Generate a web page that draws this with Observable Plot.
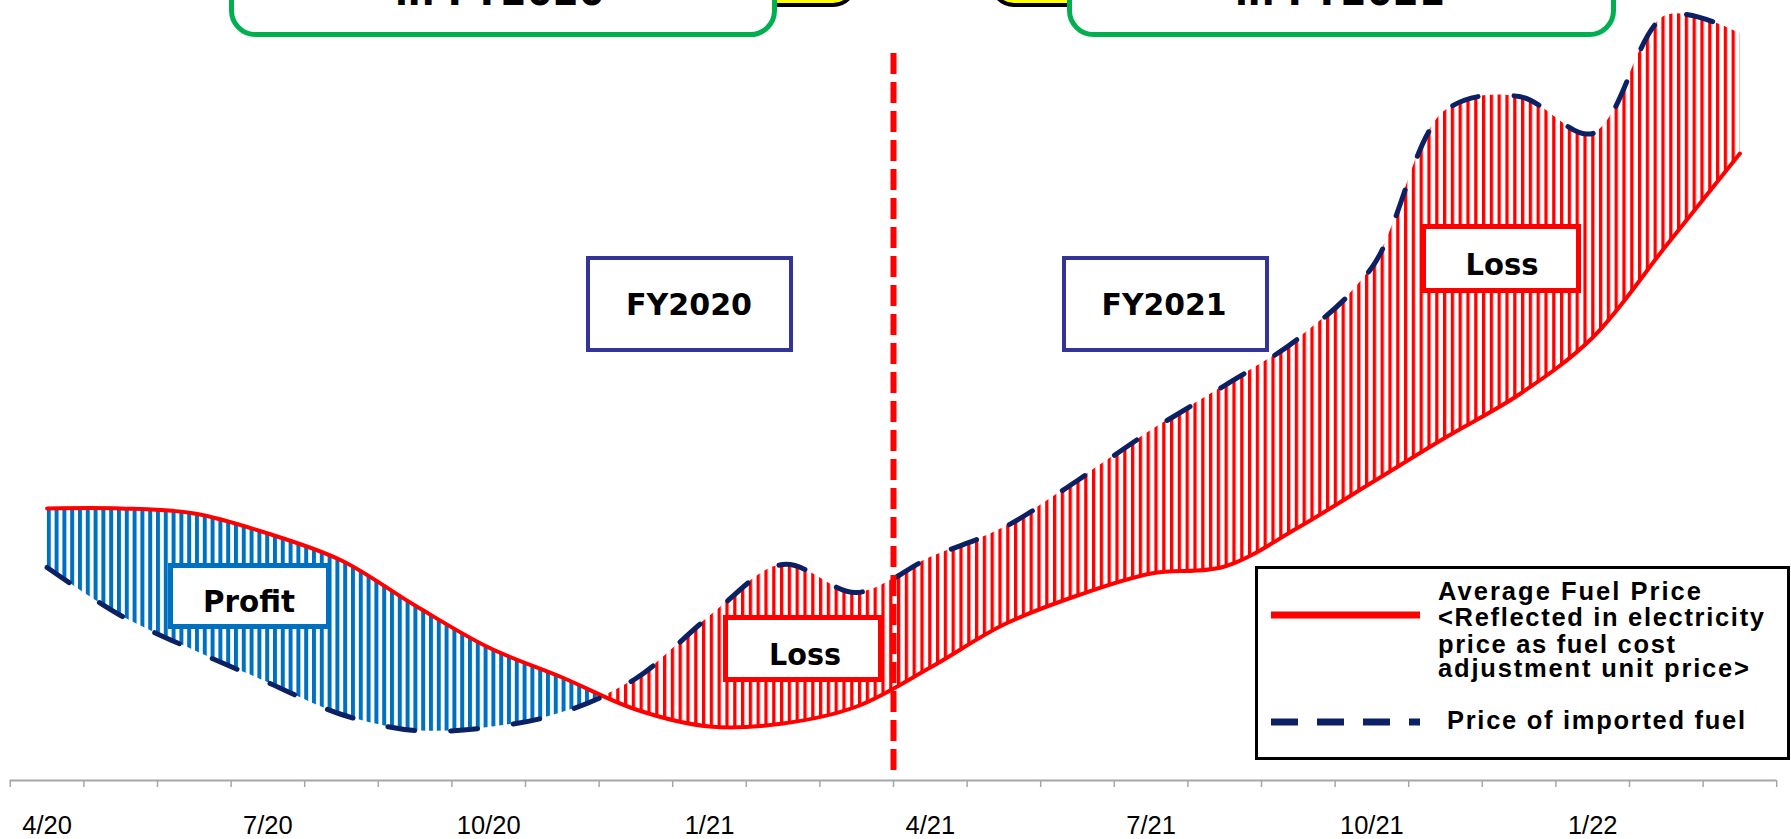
<!DOCTYPE html>
<html>
<head>
<meta charset="utf-8">
<script src="https://cdn.jsdelivr.net/npm/d3@7"></script>
<script src="https://cdn.jsdelivr.net/npm/@observablehq/plot@0.6"></script>
<style>
  html, body { margin: 0; padding: 0; background: #fff; overflow: hidden; }
  #chart svg { display: block; }
</style>
</head>
<body>
<div id="chart"></div>
<script>
// ---------------- data ----------------
const months = ["2020-04","2020-05","2020-06","2020-07","2020-08","2020-09","2020-10","2020-11","2020-12","2021-01","2021-02","2021-03",
                "2021-04","2021-05","2021-06","2021-07","2021-08","2021-09","2021-10","2021-11","2021-12","2022-01","2022-02","2022-03"];
// Average fuel price (reflected in electricity price as fuel cost adjustment unit price) – index units
const avgFuelPrice = [27.2, 27.2, 26.7, 24.7, 22.0, 17.5, 13.3, 10.3, 7.1, 5.4, 5.7, 7.4,
                      11.3, 15.6, 18.5, 20.7, 21.4, 25.3, 29.8, 34.3, 38.6, 44.3, 53.5, 62.7];
// Price of imported fuel – index units
const importedFuelPrice = [21.3, 16.5, 13.0, 9.8, 6.6, 5.0, 5.3, 6.8, 10.2, 16.4, 21.6, 18.8,
                           22.3, 25.3, 30.0, 35.0, 39.5, 44.2, 51.3, 67.0, 68.4, 64.7, 76.5, 74.7];
const tickLabels = ["4/20","7/20","10/20","1/21","4/21","7/21","10/21","1/22"];
const tickLabelMonths = ["2020-04","2020-07","2020-10","2021-01","2021-04","2021-07","2021-10","2022-01"];
const fiscalYearStart = "2021-04";
const seriesNames = ["Average Fuel Price\n<Reflected in electricity\nprice as fuel cost\nadjustment unit price>", "Price of imported fuel"];
const regionLabels = ["Profit", "Loss", "Loss"];
const yearLabels = ["FY2020", "FY2021"];
const headerLabels = ["in FY2020", "in FY2021"];

// ---------------- build ----------------
const data = months.map((m, i) => ({month: m, x: i + 0.5, avg: avgFuelPrice[i], imp: importedFuelPrice[i]}));
const W = 1791, H = 839;
const RED = "#ff0000", NAVY = "#0b2163", BLUE = "#0070c0";

// crossing point where the imported price rises above the average price
let xc = data[data.length - 1].x;
for (let i = 0; i < data.length - 1; i++) {
  const a = data[i].avg - data[i].imp, b = data[i + 1].avg - data[i + 1].imp;
  if (a >= 0 && b < 0) { xc = data[i].x + a / (a - b); break; }
}

const plot = Plot.plot({
  width: W, height: H,
  marginTop: 0, marginBottom: 59, marginLeft: 9.8, marginRight: 14.8,
  style: {fontFamily: "'Liberation Sans', Arial, sans-serif", color: "black", background: "white", overflow: "visible"},
  x: {domain: [0, months.length], label: null},
  y: {domain: [0, 78], axis: null},
  marks: [
    Plot.areaY(data, {x: "x", y1: "avg", y2: "imp", curve: "catmull-rom", fill: BLUE}),
    Plot.areaY(data, {x: "x", y1: "avg", y2: "imp", curve: "catmull-rom", fill: RED}),
    Plot.ruleY([0], {stroke: "#a6a6a6", strokeWidth: 2}),
    Plot.axisX(d3.range(months.length + 1), {tickFormat: () => "", tickSize: 7, stroke: "#a6a6a6", strokeWidth: 1.5, label: null}),
    Plot.axisX(tickLabelMonths.map(m => months.indexOf(m) + 0.5), {
      tickFormat: (d) => tickLabels[tickLabelMonths.indexOf(months[Math.floor(d)])],
      tickSize: 0, tickPadding: 35, fontSize: 25.5, label: null
    }),
    Plot.lineY(data, {x: "x", y: "avg", curve: "catmull-rom", stroke: RED, strokeWidth: 4, strokeLinecap: "round"}),
    Plot.lineY(data, {x: "x", y: "imp", curve: "catmull-rom", stroke: NAVY, strokeWidth: 5, strokeDasharray: "27,36", strokeLinecap: "round"}),
    Plot.ruleX([months.indexOf(fiscalYearStart)], {stroke: RED, strokeWidth: 6, strokeDasharray: "21,8", insetTop: 53, insetBottom: 7})
  ]
});
document.getElementById("chart").appendChild(plot);

// ---------------- striped fills, split at the crossing ----------------
const svg = d3.select(plot);
const defs = svg.insert("svg:defs", ":first-child");
function stripes(id, color, w) {
  const p = defs.append("svg:pattern").attr("id", id).attr("patternUnits", "userSpaceOnUse")
    .attr("x", 0).attr("y", 0).attr("width", 7.8).attr("height", 20);
  p.append("svg:rect").attr("x", 0).attr("y", 0).attr("width", w).attr("height", 20).attr("fill", color);
}
stripes("stripe-blue", BLUE, 4);
stripes("stripe-red", RED, 3.3);

const px = plot.scale("x").apply(xc);
defs.append("svg:clipPath").attr("id", "clip-profit").append("svg:rect").attr("x", 0).attr("y", 0).attr("width", px).attr("height", H);
defs.append("svg:clipPath").attr("id", "clip-loss").append("svg:rect").attr("x", px).attr("y", 0).attr("width", W - px).attr("height", H);
const areas = svg.selectAll('g[aria-label="area"]').nodes();
if (areas.length >= 2) {
  d3.select(areas[0]).attr("clip-path", "url(#clip-profit)").attr("fill", "url(#stripe-blue)")
    .selectAll("path").attr("fill", "url(#stripe-blue)");
  d3.select(areas[1]).attr("clip-path", "url(#clip-loss)").attr("fill", "url(#stripe-red)")
    .selectAll("path").attr("fill", "url(#stripe-red)");
}

// ---------------- annotations ----------------
const ann = svg.append("g").attr("text-anchor", "middle");
const BOXFONT = "'DejaVu Sans', Verdana, sans-serif";
function labelBox(b) {
  ann.append("rect")
    .attr("x", b.x0 + b.sw / 2).attr("y", b.y0 + b.sw / 2)
    .attr("width", b.x1 - b.x0 - b.sw).attr("height", b.y1 - b.y0 - b.sw)
    .attr("rx", b.rx || 0)
    .attr("fill", "white").attr("stroke", b.stroke).attr("stroke-width", b.sw);
  if (b.text) {
    ann.append("text")
      .attr("x", b.cx).attr("y", b.baseline)
      .attr("text-anchor", "middle")
      .attr("font-family", BOXFONT).attr("font-weight", "bold").attr("font-size", b.fs || 31)
      .attr("textLength", b.tw).attr("lengthAdjust", "spacingAndGlyphs")
      .attr("fill", "black")
      .text(b.text);
  }
}

// header decorations (cut off at top)
ann.append("rect").attr("x", 700).attr("y", -60).attr("width", 155).attr("height", 65).attr("rx", 22)
  .attr("fill", "#ffff00").attr("stroke", "black").attr("stroke-width", 4);
ann.append("rect").attr("x", 992).attr("y", -60).attr("width", 160).attr("height", 65).attr("rx", 22)
  .attr("fill", "#ffff00").attr("stroke", "black").attr("stroke-width", 4);
labelBox({x0: 229, y0: -45, x1: 777, y1: 37, sw: 5, rx: 24, stroke: "#00b050", text: headerLabels[0], cx: 500, baseline: 5, tw: 210, fs: 40});
labelBox({x0: 1067, y0: -45, x1: 1616, y1: 37, sw: 5, rx: 24, stroke: "#00b050", text: headerLabels[1], cx: 1340, baseline: 5, tw: 210, fs: 40});

labelBox({x0: 168, y0: 563, x1: 331, y1: 629, sw: 5, stroke: BLUE, text: regionLabels[0], cx: 249, baseline: 612, tw: 92});
labelBox({x0: 723, y0: 615, x1: 883, y1: 682, sw: 5, stroke: RED, text: regionLabels[1], cx: 805, baseline: 665, tw: 72});
labelBox({x0: 1421, y0: 224, x1: 1581, y1: 293, sw: 5, stroke: RED, text: regionLabels[2], cx: 1502, baseline: 275, tw: 73});
labelBox({x0: 586, y0: 256, x1: 793, y1: 352, sw: 4, stroke: "#333399", text: yearLabels[0], cx: 689, baseline: 315, tw: 126});
labelBox({x0: 1062, y0: 256, x1: 1269, y1: 352, sw: 4, stroke: "#333399", text: yearLabels[1], cx: 1164, baseline: 315, tw: 125});

// legend
const lg = svg.append("g").attr("text-anchor", "start");
lg.append("rect").attr("x", 1256.5).attr("y", 567.5).attr("width", 532).attr("height", 191)
  .attr("fill", "white").attr("stroke", "black").attr("stroke-width", 3);
lg.append("line").attr("x1", 1271).attr("x2", 1420).attr("y1", 615).attr("y2", 615)
  .attr("stroke", RED).attr("stroke-width", 7);
lg.append("line").attr("x1", 1271).attr("x2", 1420).attr("y1", 722).attr("y2", 722)
  .attr("stroke", NAVY).attr("stroke-width", 7).attr("stroke-dasharray", "27,19");
const LEGFONT = "'Liberation Sans', Arial, sans-serif";
const lines0 = seriesNames[0].split("\n");
const lw = [263, 326, 237, 311];
const lb = [600, 626, 652.5, 677];
lines0.forEach((t, i) => {
  lg.append("text").attr("x", 1438).attr("y", lb[i]).attr("text-anchor", "start").attr("font-family", LEGFONT).attr("font-weight", "bold")
    .attr("font-size", 25.5).attr("textLength", lw[i]).attr("fill", "black").text(t);
});
lg.append("text").attr("x", 1447).attr("y", 729).attr("text-anchor", "start").attr("font-family", LEGFONT).attr("font-weight", "bold")
  .attr("font-size", 25.5).attr("textLength", 298).attr("fill", "black").text(seriesNames[1]);
</script>
</body>
</html>
